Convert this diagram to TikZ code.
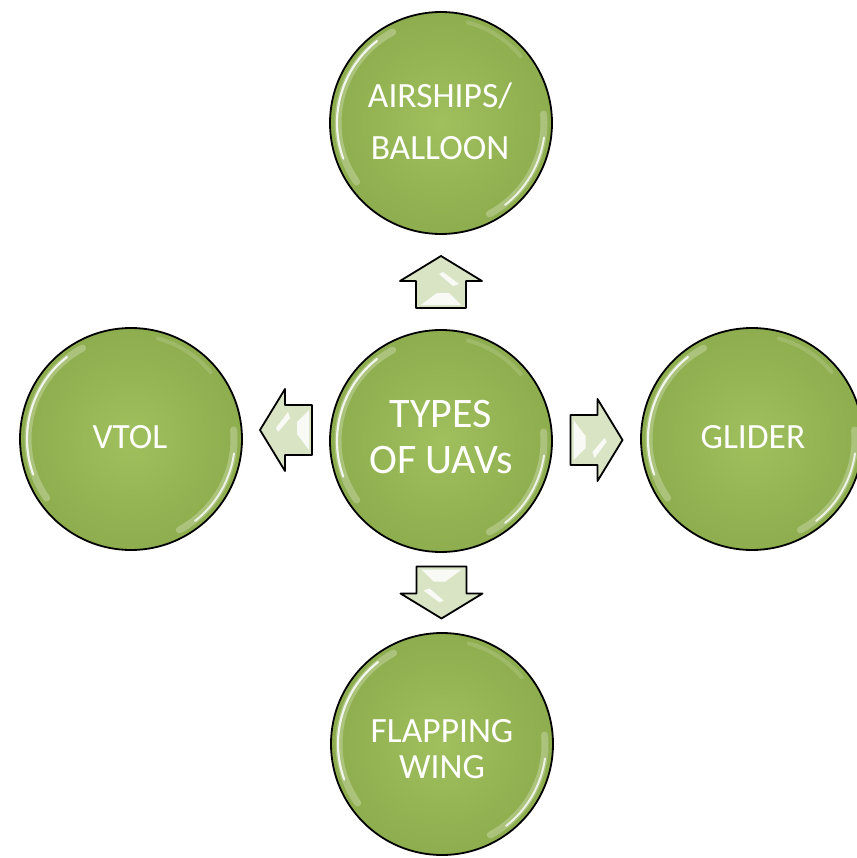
\documentclass[tikz,border=0pt]{standalone}
\usepackage{fontspec}
\setmainfont{Carlito}
\usetikzlibrary{calc}
\definecolor{bubbleinner}{HTML}{A0C05E}
\definecolor{bubbleouter}{HTML}{8DAD4E}
\definecolor{arrowfill}{HTML}{D8E4C4}
\tikzset{
  bubble/.style={circle, minimum size=222pt, inner sep=0pt, draw=black, line width=1.8pt,
    inner color=bubbleinner, outer color=bubbleouter},
  lbl/.style={text=white, anchor=base, inner sep=0pt},
  bigfont/.style={font=\fontsize{42}{46}\selectfont},
  smallfont/.style={font=\fontsize{35.5}{40}\selectfont},
  arrowbody/.style={draw=black, line width=1.8pt, fill=arrowfill, line join=round},
  glint/.style={white, line cap=round},
  blockarr/.pic={
    \draw[arrowbody] (-26,-25) -- (1,-25) -- (1,-41) -- (26,0) -- (1,41) -- (1,25) -- (-26,25) -- cycle;
    \fill[white, opacity=.85] (-23,-20) -- (-11,-4) -- (-11,8) -- (-23,20) -- cycle;
    \fill[white, opacity=.85] (-4,12) -- (8,-2) -- (10,2) -- (-2,18) -- cycle;
  }
}
\newcommand\gloss[1]{%
  \draw[glint, opacity=.25, line width=7pt] ($(#1)+(118:103pt)$) arc[start angle=118, end angle=215, radius=103pt];
  \draw[glint, opacity=.85, line width=2.2pt] ($(#1)+(128:104pt)$) arc[start angle=128, end angle=200, radius=104pt];
  \draw[glint, opacity=.25, line width=7pt] ($(#1)+(5:103pt)$) arc[start angle=5, end angle=-62, radius=103pt];
  \draw[glint, opacity=.8, line width=2pt] ($(#1)+(-8:104pt)$) arc[start angle=-8, end angle=-52, radius=104pt];
  \draw[glint, opacity=.15, line width=4pt] ($(#1)+(75:104pt)$) arc[start angle=75, end angle=40, radius=104pt];
}
\begin{document}
\begin{tikzpicture}[x=1pt, y=-1pt]
\useasboundingbox (0,0) rectangle (856,858);
\fill[white] (0,0) rectangle (856,858);

\node[bubble] (c) at (441,441) {};
\node[bubble] (top) at (441,123) {};
\node[bubble] (left) at (131,439) {};
\node[bubble] (right) at (752,439) {};
\node[bubble] (bottom) at (442,744) {};
\gloss{c}\gloss{top}\gloss{left}\gloss{right}\gloss{bottom}

\node[lbl, bigfont] (c1) at (441,427) {TYPES};
\node[lbl, bigfont] (c2) at (441,473) {OF UAVs};
\node[lbl, smallfont] (t1) at (440,108) {AIRSHIPS/};
\node[lbl, smallfont] (t2) at (440,160) {BALLOON};
\node[lbl, smallfont] (l1) at (130,448) {VTOL};
\node[lbl, smallfont] (r1) at (753,448) {GLIDER};
\node[lbl, smallfont] (b1) at (442,742) {FLAPPING};
\node[lbl, smallfont] (b2) at (442,778) {WING};

\pic[rotate=90] at ($(c)!0.5!(top)$) {blockarr};
\pic[rotate=0] at ($(c)!0.5!(right)$) {blockarr};
\pic[rotate=180] at ($(c)!0.5!(left)+(0,-10)$) {blockarr};
\pic[rotate=270] at ($(c)!0.5!(bottom)$) {blockarr};
\end{tikzpicture}
\end{document}
